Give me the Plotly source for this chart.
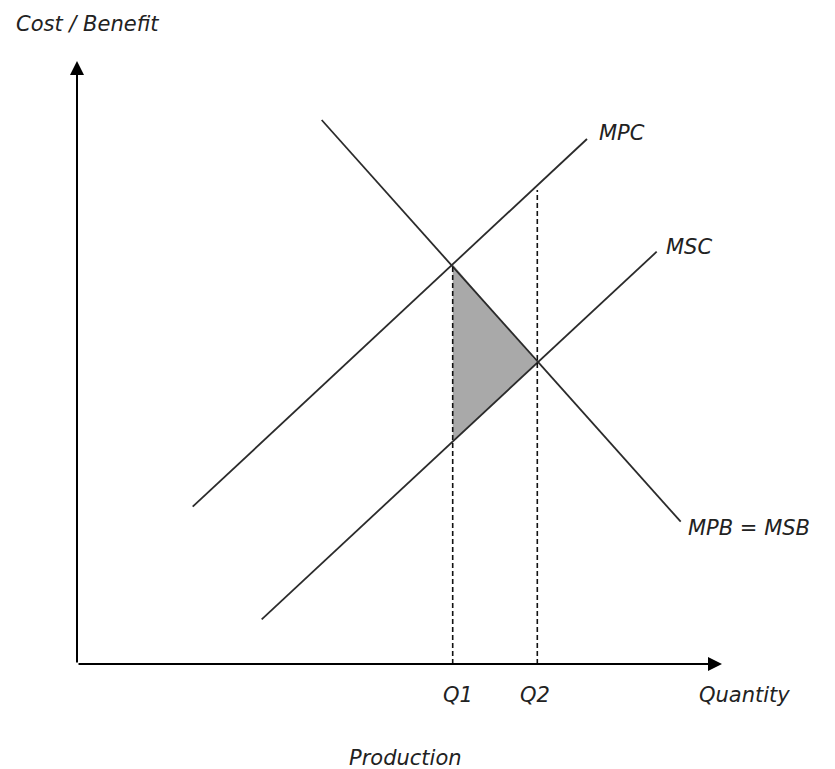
import numpy as np
import plotly.graph_objects as go

# Curve endpoints (quantity, cost/benefit) in chart units
MPC_x = [11.57, 51.0]
MPC_y = [15.73, 52.5]
MSC_x = [18.47, 57.97]
MSC_y = [4.47, 41.23]
MPB_x = [24.47, 60.37]
MPB_y = [54.4, 14.23]

Q1 = 37.57
Q2 = 46.03
Q2_top = 47.4
X_MAX = 64.5
Y_MAX = 60.3

labels = {"MPC": "MPC", "MSC": "MSC", "MPB": "MPB = MSB"}
tick_labels = ["Q1", "Q2"]

q1_top = float(np.interp(Q1, MPC_x, MPC_y))
q1_bot = float(np.interp(Q1, MSC_x, MSC_y))
q2_mid = float(np.interp(Q2, MSC_x, MSC_y))

FONT = dict(family="DejaVu Sans", size=21, color="#222", style="italic")
LINE_C = "#2b2b2b"

fig = go.Figure()

# shaded welfare triangle
fig.add_trace(go.Scatter(
    x=[Q1, Q1, Q2, Q1], y=[q1_top, q1_bot, q2_mid, q1_top],
    fill="toself", fillcolor="#a9a9a9", mode="lines",
    line=dict(color="rgba(0,0,0,0)", width=0), hoverinfo="skip", showlegend=False))

for xs, ys in [(MPC_x, MPC_y), (MSC_x, MSC_y), (MPB_x, MPB_y)]:
    fig.add_trace(go.Scatter(x=xs, y=ys, mode="lines",
                             line=dict(color=LINE_C, width=1.8), showlegend=False))

# dashed quantity lines
fig.add_trace(go.Scatter(x=[Q1, Q1], y=[0, q1_top], mode="lines",
                         line=dict(color="#111", width=1.6, dash="5px,3px"), showlegend=False))
fig.add_trace(go.Scatter(x=[Q2, Q2], y=[0, Q2_top], mode="lines",
                         line=dict(color="#111", width=1.6, dash="5px,3px"), showlegend=False))

# axes with arrows
fig.add_annotation(x=0, y=Y_MAX, ax=0, ay=0, xref="x", yref="y", axref="x", ayref="y",
                   text="", showarrow=True, arrowhead=2, arrowsize=1.4, arrowwidth=2, arrowcolor="#000")
fig.add_annotation(x=X_MAX, y=0, ax=0, ay=0, xref="x", yref="y", axref="x", ayref="y",
                   text="", showarrow=True, arrowhead=2, arrowsize=1.4, arrowwidth=2, arrowcolor="#000")

# text labels
fig.add_annotation(x=-6.3, y=64.0, text="Cost / Benefit", showarrow=False, xanchor="left", font=FONT)
fig.add_annotation(x=52.0, y=53.1, text=labels["MPC"], showarrow=False, xanchor="left", font=FONT)
fig.add_annotation(x=58.7, y=41.7, text=labels["MSC"], showarrow=False, xanchor="left", font=FONT)
fig.add_annotation(x=60.9, y=13.6, text=labels["MPB"], showarrow=False, xanchor="left", font=FONT)
fig.add_annotation(x=38.1, y=-3.1, text=tick_labels[0], showarrow=False, font=FONT)
fig.add_annotation(x=45.8, y=-3.1, text=tick_labels[1], showarrow=False, font=FONT)
fig.add_annotation(x=66.7, y=-3.1, text="Quantity", showarrow=False, font=FONT)
fig.add_annotation(x=32.8, y=-9.4, text="Production", showarrow=False, font=FONT)

fig.update_layout(
    width=827, height=761,
    margin=dict(l=0, r=0, t=0, b=0),
    paper_bgcolor="white", plot_bgcolor="white",
    xaxis=dict(range=[-6.9, 75.8], visible=False, fixedrange=True),
    yaxis=dict(range=[-10.5, 65.6], visible=False, fixedrange=True),
    showlegend=False,
)

fig.write_html("out.html")
